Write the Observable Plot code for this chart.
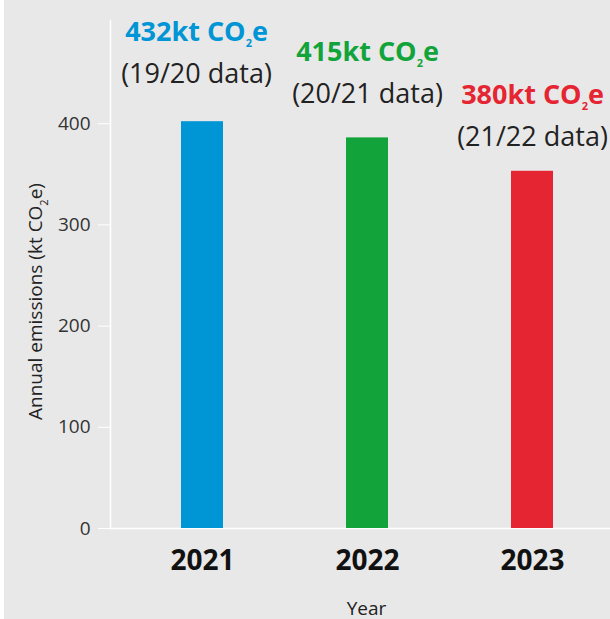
<!DOCTYPE html>
<html>
<head>
<meta charset="utf-8">
<script src="https://cdn.jsdelivr.net/npm/d3@7"></script>
<script src="https://cdn.jsdelivr.net/npm/@observablehq/plot@0.6"></script>
<style>
  html, body { margin: 0; padding: 0; background: #ffffff; }
  #chart svg { display: block; }
</style>
</head>
<body>
<div id="chart"></div>
<script>
const years = ["2021", "2022", "2023"];
const emissions = [402, 386, 353];
const reported = [432, 415, 380];
const periods = ["(19/20 data)", "(20/21 data)", "(21/22 data)"];
const barColors = ["#0095d5", "#12a43a", "#e52532"];
const yTicks = [0, 100, 200, 300, 400];

// label placement tweaks (pixels), one per bar
const labelDx = [-6, 0, 0];
const labelDy = [-8, -6, 2];

const rows = years.map((year, i) => ({
  year,
  value: emissions[i],
  reported: reported[i],
  period: periods[i],
  color: barColors[i]
}));

const fontFamily = "'Open Sans', 'Noto Sans', sans-serif";

const labelMarks = rows.flatMap((r, i) => [
  Plot.text([r], {
    x: "year", y: "reported", text: d => `${d.reported}kt CO₂e`, fill: "color",
    fontWeight: "bold", fontSize: 27, lineAnchor: "bottom",
    dx: labelDx[i], dy: labelDy[i] - 42
  }),
  Plot.text([r], {
    x: "year", y: "reported", text: "period", fill: "#222",
    fontSize: 27, lineAnchor: "bottom", dx: labelDx[i], dy: labelDy[i]
  })
]);

const chart = Plot.plot({
  width: 610,
  height: 619,
  marginLeft: 110,
  marginRight: 0,
  marginTop: 20,
  marginBottom: 91,
  style: {
    fontFamily,
    background: "linear-gradient(to right, #ffffff 4px, #e8e8e8 4px)",
    overflow: "visible"
  },
  x: { domain: years, range: [110, 624], paddingInner: 0.746, paddingOuter: 0.43 },
  y: { domain: [0, 502] },
  color: { type: "identity" },
  marks: [
    Plot.frame({ anchor: "left", stroke: "white", strokeWidth: 1.5 }),
    Plot.ruleY([0], { stroke: "white", strokeWidth: 1.5 }),
    Plot.barY(rows, { x: "year", y: "value", fill: "color" }),
    Plot.axisY({
      ticks: yTicks, tickSize: 12, tickPadding: 8, stroke: "white", fill: "#333",
      fontSize: 19, label: null
    }),
    Plot.axisX({
      tickSize: 0, tickPadding: 22, fill: "#111", fontSize: 28, fontWeight: "bold", label: null
    }),
    ...labelMarks,
    Plot.text(["Year"], {
      frameAnchor: "bottom", text: d => d, fontSize: 19, fill: "#222",
      lineAnchor: "bottom", dx: 6, dy: 86
    }),
    Plot.text(["Annual emissions (kt CO₂e)"], {
      frameAnchor: "left", text: d => d, fontSize: 19, fill: "#222",
      textAnchor: "middle", rotate: -90, dx: -75, dy: 27
    })
  ]
});

// Turn "₂" into a real subscript tspan
d3.select(chart).selectAll("text").each(function () {
  const el = this;
  if (el.children.length > 0) return;
  const s = el.textContent;
  const k = s.indexOf("₂");
  if (k < 0) return;
  const fs = parseFloat(getComputedStyle(el).fontSize) || 19;
  const subSize = Math.round(fs * 0.6);
  const shift = Math.round(fs * 0.33);
  el.textContent = "";
  const t = d3.select(el);
  t.append("tspan").text(s.slice(0, k));
  t.append("tspan").attr("font-size", subSize).attr("dy", shift).text("2");
  t.append("tspan").attr("dy", -shift).text(s.slice(k + 1));
});

document.getElementById("chart").append(chart);
</script>
</body>
</html>
